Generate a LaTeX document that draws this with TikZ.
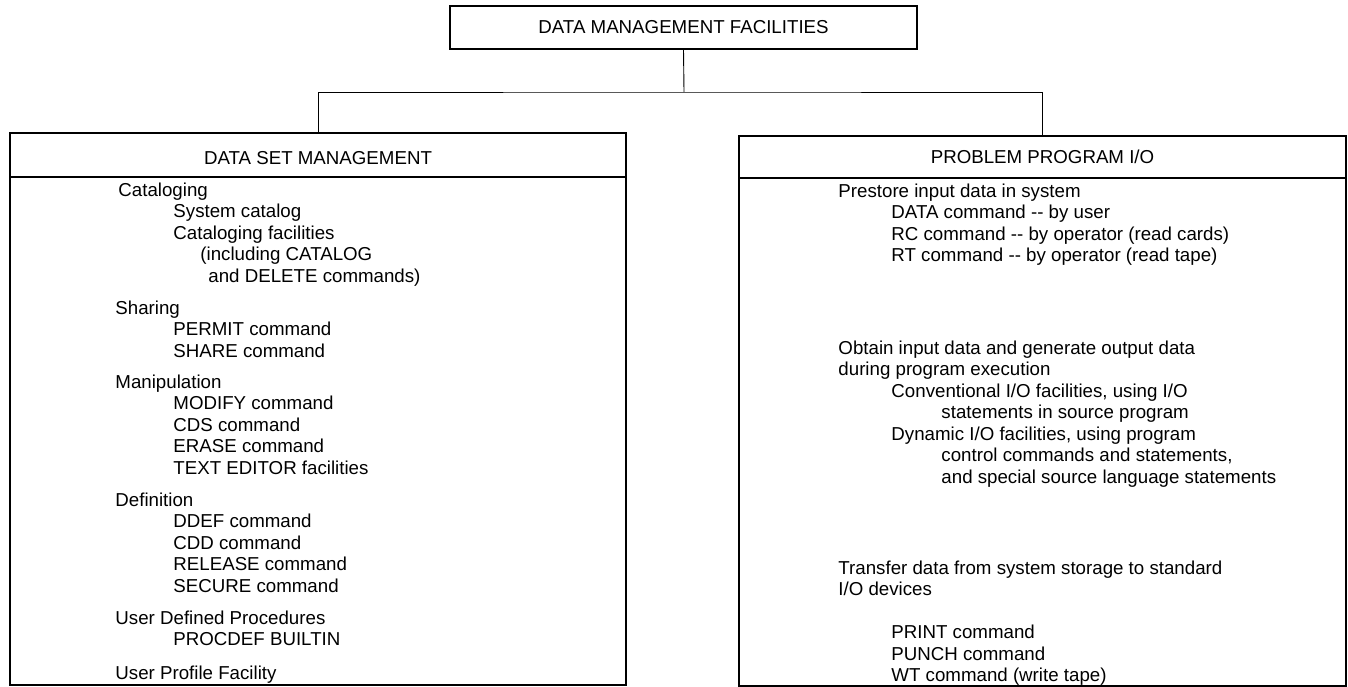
\documentclass[tikz,border=0pt]{standalone}
\usepackage{fontspec}
\setmainfont{Liberation Sans}
\usetikzlibrary{positioning}

\tikzset{
  frame/.style={draw, line width=1.6pt, inner sep=0pt},
  title/.style={inner sep=0pt, font=\fontsize{18.7}{21.5}\selectfont},
  entry/.style={inner sep=0pt, anchor=base west, align=left, font=\fontsize{18.7}{21.5}\selectfont}
}
\newcommand{\indentby}[1]{\hspace*{#1pt}}

\begin{document}
\begin{tikzpicture}[x=1pt,y=-1pt,line width=0.9pt]
    \useasboundingbox (0,0) rectangle (1348,687);

    \node[frame, title, minimum width=467pt, minimum height=43pt] (dmf) at (683.5,27.5) {DATA MANAGEMENT FACILITIES};

    %left box
    \node[frame, minimum width=616pt, minimum height=552pt] (dsm) at (318,409) {};
    \node[title] (dsmtitle) at (318,158) {DATA SET MANAGEMENT};
    \draw[line width=1.6pt] ([yshift=-45pt]dsm.north west) -- ([yshift=-45pt]dsm.north east);

    %right box
    \node[frame, minimum width=607pt, minimum height=550pt] (ppio) at (1042.5,411) {};
    \node[title] (ppiotitle) at (1042.5,157) {PROBLEM PROGRAM I/O};
    \draw[line width=1.6pt] ([yshift=-43pt]ppio.north west) -- ([yshift=-43pt]ppio.north east);

    %tree lines
    \coordinate (fork) at (684,92);
    \draw (dmf.south) -- (fork);
    \draw (dsm.north) |- (fork) -| (ppio.north);

    %data set management (base = last line)
    \node[entry] (catalog) at (115,282) {\indentby{3}Cataloging\\ \indentby{58}System catalog\\ \indentby{58}Cataloging facilities\\ \indentby{85}(including CATALOG\\ \indentby{93}and DELETE commands)};
    \node[entry] (sharing) at (115,357) {Sharing\\ \indentby{58}PERMIT command\\ \indentby{58}SHARE command};
    \node[entry] (manip) at (115,474) {Manipulation\\ \indentby{58}MODIFY command\\ \indentby{58}CDS command\\ \indentby{58}ERASE command\\ \indentby{58}TEXT EDITOR facilities};
    \node[entry] (defin) at (115,592) {Definition\\ \indentby{58}DDEF command\\ \indentby{58}CDD command\\ \indentby{58}RELEASE command\\ \indentby{58}SECURE command};
    \node[entry] (userproc) at (115,645.5) {User Defined Procedures\\ \indentby{58}PROCDEF BUILTIN};
    \node[entry] (profile) at (115,679) {User Profile Facility};

    %problem program i/o
    \node[entry] (prestore) at (838,261.5) {Prestore input data in system\\ \indentby{53}DATA command -{}- by user\\ \indentby{53}RC command -{}- by operator (read cards)\\ \indentby{53}RT command -{}- by operator (read tape)};
    \node[entry] (obtain) at (838,483) {Obtain input data and generate output data\\ during program execution\\ \indentby{53}Conventional I/O facilities, using I/O\\ \indentby{103}statements in source program\\ \indentby{53}Dynamic I/O facilities, using program\\ \indentby{103}control commands and statements,\\ \indentby{103}and special source language statements};
    \node[entry] (transfer) at (838,681.5) {Transfer data from system storage to standard\\ I/O devices\\[21.5pt] \indentby{53}PRINT command\\ \indentby{53}PUNCH command\\ \indentby{53}WT command (write tape)};
\end{tikzpicture}
\end{document}
